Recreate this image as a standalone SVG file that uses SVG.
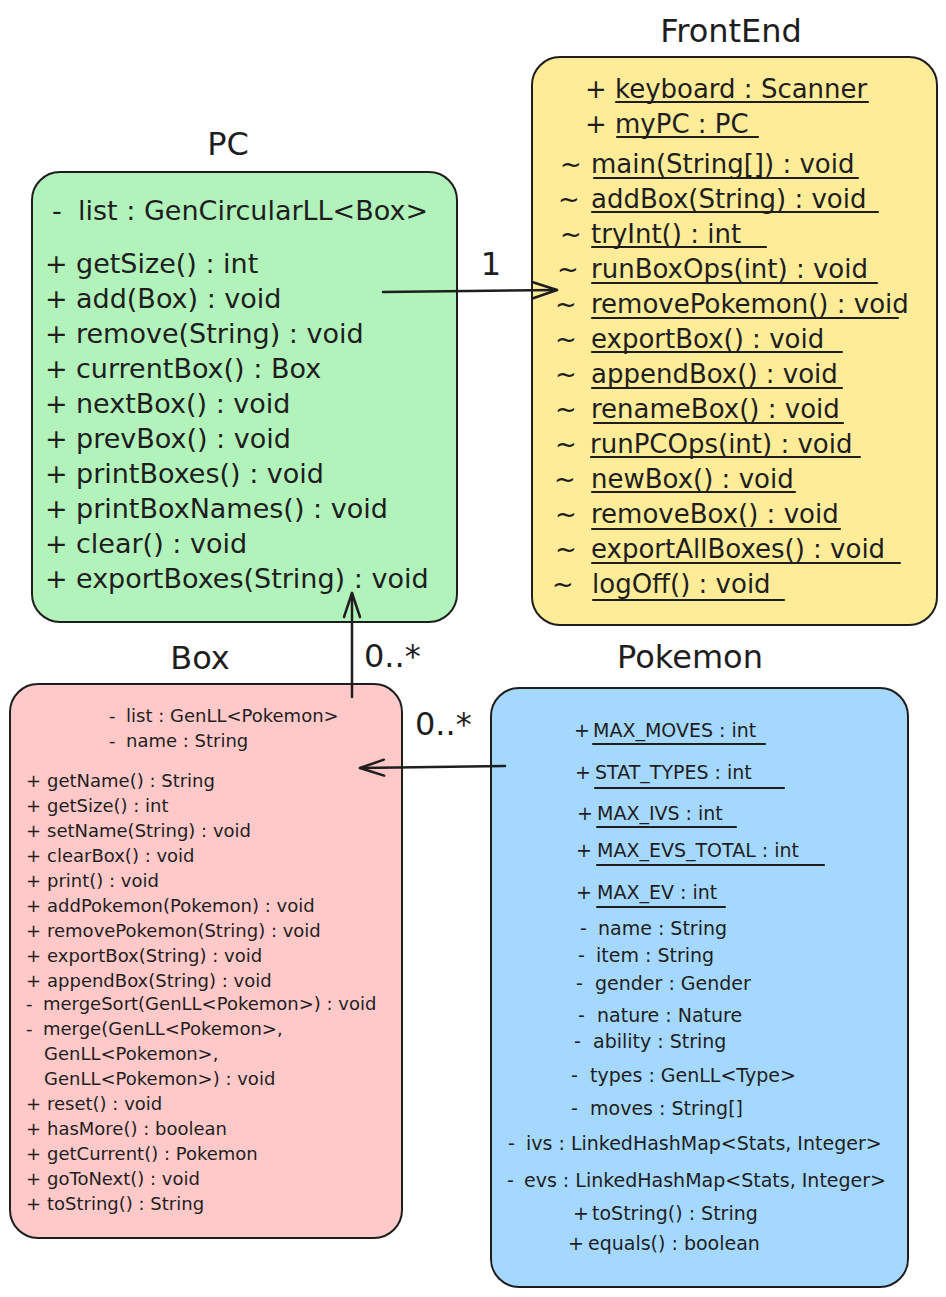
<svg xmlns="http://www.w3.org/2000/svg" width="946" height="1297" viewBox="0 0 946 1297">
<style>
text{font-family:"DejaVu Sans","Liberation Sans",sans-serif;fill:#1e1e1e}
.title{font-size:32px;text-anchor:middle}
.pc{font-size:27px}
.fe{font-size:26px}
.sm{font-size:18px}
.pk{font-size:19px}
.mult{font-size:32px}
.box{stroke:#1e1e1e;stroke-width:2}
.ul{stroke:#1e1e1e;stroke-width:2.2;stroke-linecap:round}
.conn{stroke:#1e1e1e;stroke-width:2.5;fill:none;stroke-linecap:round}
</style>
<defs>
<marker id="arr" viewBox="0 0 24 18" refX="24" refY="9" markerWidth="24" markerHeight="18" markerUnits="userSpaceOnUse" orient="auto" overflow="visible">
<path d="M0,1 L24,9 L0,17" fill="none" stroke="#1e1e1e" stroke-width="2.5" stroke-linecap="round" stroke-linejoin="round"/>
</marker>
</defs>
<rect width="946" height="1297" fill="#ffffff"/>

<g id="pc">
<rect class="box" x="32" y="172" width="425" height="450" rx="28" fill="#b2f2bb"/>
<text class="title" x="228" y="155">PC</text>
<text class="pc" y="220"><tspan x="52">-</tspan><tspan x="78">list : GenCircularLL&lt;Box&gt;</tspan></text>
<text class="pc" y="273"><tspan x="45">+</tspan><tspan x="76">getSize() : int</tspan></text>
<text class="pc" y="308"><tspan x="45">+</tspan><tspan x="76">add(Box) : void</tspan></text>
<text class="pc" y="343"><tspan x="45">+</tspan><tspan x="76">remove(String) : void</tspan></text>
<text class="pc" y="378"><tspan x="45">+</tspan><tspan x="76">currentBox() : Box</tspan></text>
<text class="pc" y="413"><tspan x="45">+</tspan><tspan x="76">nextBox() : void</tspan></text>
<text class="pc" y="448"><tspan x="45">+</tspan><tspan x="76">prevBox() : void</tspan></text>
<text class="pc" y="483"><tspan x="45">+</tspan><tspan x="76">printBoxes() : void</tspan></text>
<text class="pc" y="518"><tspan x="45">+</tspan><tspan x="76">printBoxNames() : void</tspan></text>
<text class="pc" y="553"><tspan x="45">+</tspan><tspan x="76">clear() : void</tspan></text>
<text class="pc" y="588"><tspan x="45">+</tspan><tspan x="76">exportBoxes(String) : void</tspan></text>
</g>

<g id="frontend">
<rect class="box" x="532" y="57" width="405" height="568" rx="28" fill="#ffec99"/>
<text class="title" x="731" y="42">FrontEnd</text>
<text class="fe" y="98"><tspan x="585">+</tspan><tspan x="615">keyboard : Scanner</tspan></text>
<line class="ul" x1="616" y1="102" x2="868" y2="102"/>
<text class="fe" y="133"><tspan x="585">+</tspan><tspan x="615">myPC : PC</tspan></text>
<line class="ul" x1="617" y1="137" x2="758" y2="137"/>
<text class="fe" y="173"><tspan x="560">~</tspan><tspan x="591">main(String[]) : void</tspan></text>
<line class="ul" x1="594" y1="178" x2="858" y2="178"/>
<text class="fe" y="208"><tspan x="558">~</tspan><tspan x="591">addBox(String) : void</tspan></text>
<line class="ul" x1="592" y1="212" x2="878" y2="212"/>
<text class="fe" y="243"><tspan x="560">~</tspan><tspan x="591">tryInt() : int</tspan></text>
<line class="ul" x1="592" y1="247" x2="766" y2="247"/>
<text class="fe" y="278"><tspan x="557">~</tspan><tspan x="591">runBoxOps(int) : void</tspan></text>
<line class="ul" x1="592" y1="283" x2="877" y2="283"/>
<text class="fe" y="313"><tspan x="555">~</tspan><tspan x="591">removePokemon() : void</tspan></text>
<line class="ul" x1="592" y1="318" x2="898" y2="318"/>
<text class="fe" y="348"><tspan x="555">~</tspan><tspan x="591">exportBox() : void</tspan></text>
<line class="ul" x1="592" y1="352" x2="842" y2="352"/>
<text class="fe" y="383"><tspan x="555">~</tspan><tspan x="591">appendBox() : void</tspan></text>
<line class="ul" x1="592" y1="388" x2="842" y2="388"/>
<text class="fe" y="418"><tspan x="555">~</tspan><tspan x="591">renameBox() : void</tspan></text>
<line class="ul" x1="594" y1="423" x2="843" y2="423"/>
<text class="fe" y="453"><tspan x="555">~</tspan><tspan x="590">runPCOps(int) : void</tspan></text>
<line class="ul" x1="591" y1="457" x2="860" y2="457"/>
<text class="fe" y="488"><tspan x="554">~</tspan><tspan x="591">newBox() : void</tspan></text>
<line class="ul" x1="592" y1="492" x2="795" y2="492"/>
<text class="fe" y="523"><tspan x="555">~</tspan><tspan x="591">removeBox() : void</tspan></text>
<line class="ul" x1="592" y1="529" x2="840" y2="529"/>
<text class="fe" y="558"><tspan x="555">~</tspan><tspan x="591">exportAllBoxes() : void</tspan></text>
<line class="ul" x1="592" y1="563" x2="900" y2="563"/>
<text class="fe" y="593"><tspan x="552">~</tspan><tspan x="592">logOff() : void</tspan></text>
<line class="ul" x1="593" y1="600" x2="784" y2="600"/>
</g>

<g id="box">
<rect class="box" x="10" y="684" width="392" height="554" rx="28" fill="#ffc9c9"/>
<text class="title" x="200" y="669">Box</text>
<text class="sm" y="722"><tspan x="109">-</tspan><tspan x="126">list : GenLL&lt;Pokemon&gt;</tspan></text>
<text class="sm" y="747"><tspan x="109">-</tspan><tspan x="126">name : String</tspan></text>
<text class="sm" y="787"><tspan x="26">+</tspan><tspan x="47">getName() : String</tspan></text>
<text class="sm" y="812"><tspan x="26">+</tspan><tspan x="47">getSize() : int</tspan></text>
<text class="sm" y="837"><tspan x="26">+</tspan><tspan x="47">setName(String) : void</tspan></text>
<text class="sm" y="862"><tspan x="26">+</tspan><tspan x="47">clearBox() : void</tspan></text>
<text class="sm" y="887"><tspan x="26">+</tspan><tspan x="47">print() : void</tspan></text>
<text class="sm" y="912"><tspan x="26">+</tspan><tspan x="47">addPokemon(Pokemon) : void</tspan></text>
<text class="sm" y="937"><tspan x="26">+</tspan><tspan x="47">removePokemon(String) : void</tspan></text>
<text class="sm" y="962"><tspan x="26">+</tspan><tspan x="47">exportBox(String) : void</tspan></text>
<text class="sm" y="987"><tspan x="26">+</tspan><tspan x="47">appendBox(String) : void</tspan></text>
<text class="sm" y="1010"><tspan x="26">-</tspan><tspan x="43">mergeSort(GenLL&lt;Pokemon&gt;) : void</tspan></text>
<text class="sm" y="1035"><tspan x="26">-</tspan><tspan x="43">merge(GenLL&lt;Pokemon&gt;,</tspan></text>
<text class="sm" x="44" y="1060">GenLL&lt;Pokemon&gt;,</text>
<text class="sm" x="44" y="1085">GenLL&lt;Pokemon&gt;) : void</text>
<text class="sm" y="1110"><tspan x="26">+</tspan><tspan x="47">reset() : void</tspan></text>
<text class="sm" y="1135"><tspan x="26">+</tspan><tspan x="47">hasMore() : boolean</tspan></text>
<text class="sm" y="1160"><tspan x="26">+</tspan><tspan x="47">getCurrent() : Pokemon</tspan></text>
<text class="sm" y="1185"><tspan x="26">+</tspan><tspan x="47">goToNext() : void</tspan></text>
<text class="sm" y="1210"><tspan x="26">+</tspan><tspan x="47">toString() : String</tspan></text>
</g>

<g id="pokemon">
<rect class="box" x="491" y="688" width="417" height="599" rx="28" fill="#a5d8ff"/>
<text class="title" x="690" y="668">Pokemon</text>
<text class="pk" y="737"><tspan x="574">+</tspan><tspan x="593">MAX_MOVES : int</tspan></text>
<line class="ul" x1="593" y1="744" x2="765" y2="744"/>
<text class="pk" y="779"><tspan x="575">+</tspan><tspan x="595">STAT_TYPES : int</tspan></text>
<line class="ul" x1="595" y1="788" x2="784" y2="788"/>
<text class="pk" y="820"><tspan x="577">+</tspan><tspan x="597">MAX_IVS : int</tspan></text>
<line class="ul" x1="597" y1="827" x2="736" y2="827"/>
<text class="pk" y="857"><tspan x="576">+</tspan><tspan x="597">MAX_EVS_TOTAL : int</tspan></text>
<line class="ul" x1="597" y1="865" x2="824" y2="865"/>
<text class="pk" y="899"><tspan x="576">+</tspan><tspan x="597">MAX_EV : int</tspan></text>
<line class="ul" x1="597" y1="907" x2="725" y2="907"/>
<text class="pk" y="935"><tspan x="580">-</tspan><tspan x="598">name : String</tspan></text>
<text class="pk" y="962"><tspan x="578">-</tspan><tspan x="596">item : String</tspan></text>
<text class="pk" y="990"><tspan x="576">-</tspan><tspan x="595">gender : Gender</tspan></text>
<text class="pk" y="1022"><tspan x="578">-</tspan><tspan x="597">nature : Nature</tspan></text>
<text class="pk" y="1048"><tspan x="574">-</tspan><tspan x="593">ability : String</tspan></text>
<text class="pk" y="1082"><tspan x="571">-</tspan><tspan x="590">types : GenLL&lt;Type&gt;</tspan></text>
<text class="pk" y="1115"><tspan x="571">-</tspan><tspan x="590">moves : String[]</tspan></text>
<text class="pk" y="1150"><tspan x="508">-</tspan><tspan x="526">ivs : LinkedHashMap&lt;Stats, Integer&gt;</tspan></text>
<text class="pk" y="1187"><tspan x="507">-</tspan><tspan x="524">evs : LinkedHashMap&lt;Stats, Integer&gt;</tspan></text>
<text class="pk" y="1220"><tspan x="573">+</tspan><tspan x="592">toString() : String</tspan></text>
<text class="pk" y="1250"><tspan x="568">+</tspan><tspan x="588">equals() : boolean</tspan></text>
</g>

<g id="connectors">
<path class="conn" d="M383,292 L557,290" marker-end="url(#arr)"/>
<text class="mult" x="491" y="275" text-anchor="middle">1</text>
<path class="conn" d="M352,697 L352,593" marker-end="url(#arr)"/>
<text class="mult" x="364" y="667">0..*</text>
<path class="conn" d="M505,766 L360,768" marker-end="url(#arr)"/>
<text class="mult" x="415" y="735">0..*</text>
</g>
</svg>
